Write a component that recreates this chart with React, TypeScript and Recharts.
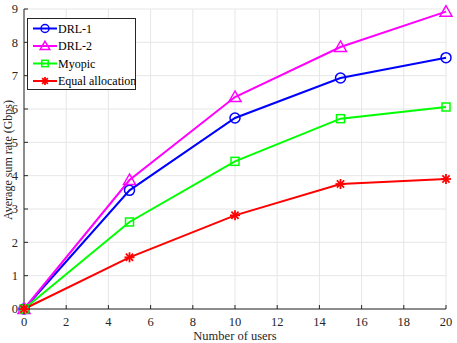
import React from "react";
import { LineChart, Line, XAxis, YAxis, CartesianGrid } from "recharts";

const users = [0, 5, 10, 15, 20];
const drl1 = [0, 3.56, 5.73, 6.93, 7.54];
const drl2 = [0, 3.87, 6.36, 7.86, 8.92];
const myopic = [0, 2.61, 4.43, 5.71, 6.06];
const equalAlloc = [0, 1.55, 2.81, 3.75, 3.9];

const xTicks = [0, 2, 4, 6, 8, 10, 12, 14, 16, 18, 20];
const yTicks = [0, 1, 2, 3, 4, 5, 6, 7, 8, 9];

const data = users.map((u, i) => ({
  users: u,
  drl1: drl1[i],
  drl2: drl2[i],
  myopic: myopic[i],
  equal: equalAlloc[i],
}));

const FONT = "Liberation Serif, Times New Roman, Times, DejaVu Serif, serif";

const Marker = ({ kind, cx, cy, color, s = 1 }: any) => {
  if (cx == null || cy == null) return null;
  if (kind === "circle")
    return <circle cx={cx} cy={cy} r={5 * s} fill="none" stroke={color} strokeWidth={1.5} />;
  if (kind === "triangle")
    return (
      <polygon
        points={`${cx},${cy - 6 * s} ${cx - 6 * s},${cy + 4.5 * s} ${cx + 6 * s},${cy + 4.5 * s}`}
        fill="none"
        stroke={color}
        strokeWidth={1.5}
      />
    );
  if (kind === "square")
    return <rect x={cx - 4 * s} y={cy - 4 * s} width={8 * s} height={8 * s} fill="none" stroke={color} strokeWidth={1.5} />;
  // asterisk
  const r = 5 * s;
  const d = 3.6 * s;
  return (
    <g stroke={color} strokeWidth={1.8}>
      <line x1={cx - r} y1={cy} x2={cx + r} y2={cy} />
      <line x1={cx} y1={cy - r} x2={cx} y2={cy + r} />
      <line x1={cx - d} y1={cy - d} x2={cx + d} y2={cy + d} />
      <line x1={cx - d} y1={cy + d} x2={cx + d} y2={cy - d} />
    </g>
  );
};

const series = [
  { key: "drl1", name: "DRL-1", color: "#0000ff", kind: "circle" },
  { key: "drl2", name: "DRL-2", color: "#ff00ff", kind: "triangle" },
  { key: "myopic", name: "Myopic", color: "#00ff00", kind: "square" },
  { key: "equal", name: "Equal allocation", color: "#ff0000", kind: "star" },
];

const LegendBox = () => (
  <svg width={109} height={72} style={{ position: "absolute", left: 27, top: 18 }}>
    <rect x={0.5} y={0.5} width={108} height={71} fill="#fff" stroke="#262626" strokeWidth={1} />
    {series.map((s, i) => {
      const y = 10.5 + i * 17.5;
      return (
        <g key={s.key}>
          <line x1={6} y1={y} x2={30} y2={y} stroke={s.color} strokeWidth={2} />
          <Marker kind={s.kind} cx={18} cy={y} color={s.color} s={0.8} />
          <text x={31} y={y + 4} fontSize={12} fontFamily={FONT} fill="#000">
            {s.name}
          </text>
        </g>
      );
    })}
  </svg>
);

const YLabel = () => (
  <svg width={20} height={343} style={{ position: "absolute", left: 0, top: 0 }}>
    <text x={0} y={0} transform="translate(12,160) rotate(-90)" textAnchor="middle" fontSize={12} fontFamily={FONT} fill="#262626">
      Average sum rate (Gbps)
    </text>
  </svg>
);

const tickStyle = { fontSize: 12.5, fill: "#262626", fontFamily: FONT };

export default function App() {
  return (
    <div style={{ position: "fixed", left: 0, top: 0, width: 457, height: 343, background: "#fff", fontFamily: FONT }}>
      <LineChart width={457} height={343} data={data} margin={{ top: 9, right: 11, left: 0, bottom: 0 }}>
        <CartesianGrid stroke="#e6e6e6" strokeWidth={1} />
        <XAxis
          dataKey="users"
          type="number"
          domain={[0, 20]}
          ticks={xTicks}
          height={34}
          stroke="#262626"
          tickSize={-4}
          tickMargin={12}
          tick={tickStyle}
          label={{ value: "Number of users", position: "insideBottom", offset: 3, fontSize: 12.5, fontFamily: FONT, fill: "#262626" }}
        />
        <XAxis xAxisId="top" orientation="top" dataKey="users" type="number" domain={[0, 20]} ticks={xTicks} height={0} stroke="#262626" tickSize={-4} tick={false} />
        <YAxis
          type="number"
          domain={[0, 9]}
          ticks={yTicks}
          width={24}
          stroke="#262626"
          tickSize={-4}
          tickMargin={10}
          tick={tickStyle}
        />
        <YAxis yAxisId="right" orientation="right" type="number" domain={[0, 9]} ticks={yTicks} width={0} stroke="#262626" tickSize={-4} tick={false} />
        {series.map((s) => (
          <Line
            key={s.key}
            dataKey={s.key}
            name={s.name}
            stroke={s.color}
            strokeWidth={2}
            isAnimationActive={false}
            dot={(p: any) => <Marker key={p.index} kind={s.kind} cx={p.cx} cy={p.cy} color={s.color} />}
            activeDot={false}
          />
        ))}
      </LineChart>
      <YLabel />
      <LegendBox />
    </div>
  );
}
